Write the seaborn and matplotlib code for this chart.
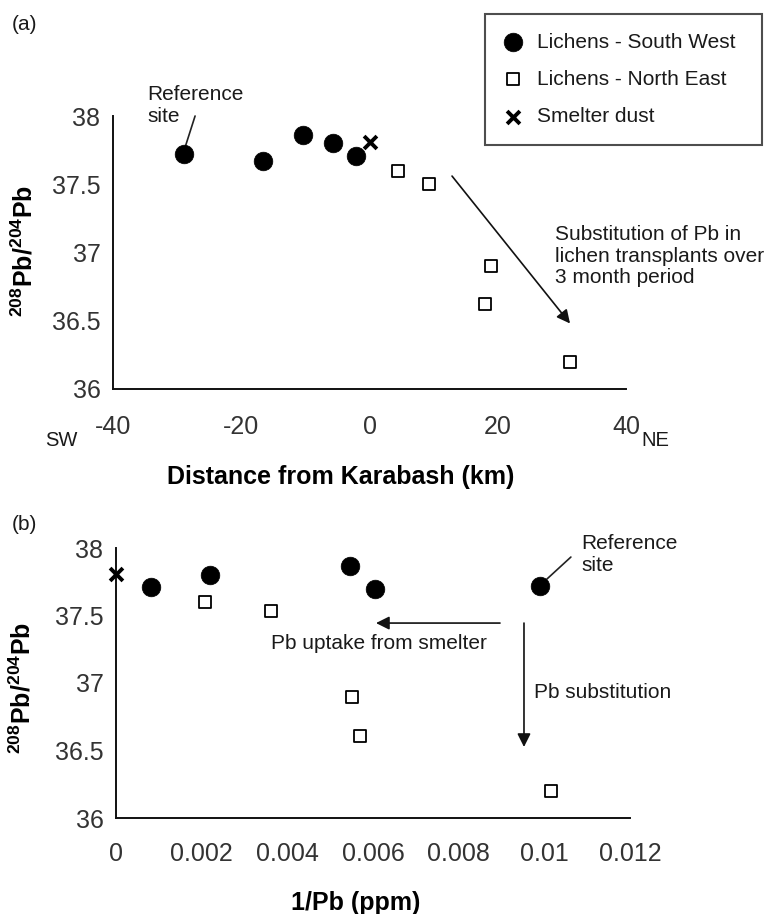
import numpy as np
import pandas as pd
import matplotlib
matplotlib.use("Agg")
import matplotlib.pyplot as plt
import seaborn as sns

# ---------------- data ----------------
# Panel (a): distance from Karabash (km) vs 208Pb/204Pb
sw_dist = [-28.9, -16.6, -10.3, -5.7, -2.1]
sw_ratio_a = [37.72, 37.67, 37.86, 37.80, 37.71]
ne_dist = [4.5, 9.3, 19.0, 18.0, 31.3]
ne_ratio_a = [37.60, 37.50, 36.90, 36.62, 36.20]
smelter_dist = [0.0]
smelter_ratio = [37.81]

# Panel (b): 1/Pb (ppm) vs 208Pb/204Pb
sw_invpb = [0.00081, 0.00219, 0.00546, 0.00605, 0.0099]
sw_ratio_b = [37.71, 37.80, 37.87, 37.70, 37.72]
ne_invpb = [0.00208, 0.00361, 0.0055, 0.0057, 0.01016]
ne_ratio_b = [37.60, 37.53, 36.90, 36.61, 36.20]
smelter_invpb = [0.0]

labels = ["Lichens - South West", "Lichens - North East", "Smelter dust"]
yticks = [36, 36.5, 37, 37.5, 38]
yticklabels = ["36", "36.5", "37", "37.5", "38"]
xticks_a = [-40, -20, 0, 20, 40]
xticklabels_a = ["-40", "-20", "0", "20", "40"]
xticks_b = [0, 0.002, 0.004, 0.006, 0.008, 0.01, 0.012]
xticklabels_b = ["0", "0.002", "0.004", "0.006", "0.008", "0.01", "0.012"]

# ---------------- style ----------------
sns.set_style("white")
plt.rcParams["font.family"] = ["Liberation Sans", "DejaVu Sans"]
plt.rcParams["axes.unicode_minus"] = False
plt.rcParams["mathtext.fontset"] = "custom"
plt.rcParams["mathtext.rm"] = "Liberation Sans"
plt.rcParams["mathtext.bf"] = "Liberation Sans:bold"

W, H = 766, 914
fig = plt.figure(figsize=(W / 100, H / 100), dpi=100)

def fx(px):
    return px / W

def fy(py):
    return 1 - py / H

ax1 = fig.add_axes([fx(113), fy(389), 513 / W, 273 / H])
ax2 = fig.add_axes([fx(116), fy(818), 514 / W, 270 / H])

TXT = "#1a1a1a"
circ_s, sq_s, x_s = 180, 75, 85

def draw(ax, sx, sy, nx, ny, mx, my, with_label):
    sns.scatterplot(x=sx, y=sy, ax=ax, marker="o", s=circ_s, color="black",
                    edgecolor="black", linewidth=0.5,
                    label=labels[0] if with_label else None, zorder=3, clip_on=False)
    sns.scatterplot(x=nx, y=ny, ax=ax, marker="s", s=sq_s, color="white",
                    edgecolor="black", linewidth=1.3,
                    label=labels[1] if with_label else None, zorder=3, clip_on=False)
    sns.scatterplot(x=mx, y=my, ax=ax, marker="x", s=x_s, color="black",
                    edgecolor="black", linewidth=2.8,
                    label=labels[2] if with_label else None, zorder=4, clip_on=False)

draw(ax1, sw_dist, sw_ratio_a, ne_dist, ne_ratio_a, smelter_dist, smelter_ratio, True)
draw(ax2, sw_invpb, sw_ratio_b, ne_invpb, ne_ratio_b, smelter_invpb, smelter_ratio, False)

for ax in (ax1, ax2):
    ax.set_ylim(36, 38)
    ax.set_yticks(yticks)
    ax.set_yticklabels(yticklabels)
    for sp in ("top", "right"):
        ax.spines[sp].set_visible(False)
    for sp in ("left", "bottom"):
        ax.spines[sp].set_linewidth(1.4)
        ax.spines[sp].set_color("#111111")
    ax.tick_params(axis="both", direction="out", length=5, width=1.4,
                   color="#111111", labelsize=18, labelcolor="#333333")
    ax.tick_params(axis="y", pad=4)
    ax.set_xlabel("")
    ax.set_ylabel("")
    ax.set_facecolor("white")

ax1.set_xlim(-40, 40)
ax1.set_xticks(xticks_a)
ax1.set_xticklabels(xticklabels_a)
ax1.tick_params(axis="x", pad=14)
ax2.set_xlim(0, 0.012)
ax2.set_xticks(xticks_b)
ax2.set_xticklabels(xticklabels_b)
ax2.tick_params(axis="x", pad=12)

# legend
leg = ax1.legend(loc="upper left",
                 bbox_to_anchor=(fx(485), fy(142), 277 / W, 128 / H),
                 bbox_transform=fig.transFigure, borderaxespad=0, mode="expand",
                 fontsize=15, frameon=True, fancybox=False, shadow=False,
                 labelspacing=0.87, borderpad=0.9, handlelength=0.9,
                 handletextpad=0.7)
leg.get_frame().set_edgecolor("#222222")
leg.get_frame().set_linewidth(1.5)
for t in leg.get_texts():
    t.set_color(TXT)

# axis labels and panel letters
ylab = r"$\mathbf{^{208}Pb/^{204}Pb}$"
fig.text(fx(24), fy(251), ylab, rotation=90, ha="center", va="center",
         fontsize=18, color="black")
fig.text(fx(22), fy(688), ylab, rotation=90, ha="center", va="center",
         fontsize=18, color="black")
fig.text(fx(341), fy(477), "Distance from Karabash (km)", ha="center", va="center",
         fontsize=18, fontweight="bold", color="black")
fig.text(fx(356), fy(903), "1/Pb (ppm)", ha="center", va="center",
         fontsize=18, fontweight="bold", color="black")
fig.text(fx(12), fy(25), "(a)", ha="left", va="center", fontsize=15, color=TXT)
fig.text(fx(12), fy(525), "(b)", ha="left", va="center", fontsize=15, color=TXT)
fig.text(fx(61), fy(440), "SW", ha="center", va="center", fontsize=14.5, color=TXT)
fig.text(fx(655), fy(440), "NE", ha="center", va="center", fontsize=14.5, color=TXT)

# panel (a) annotations
ax1.text(-34.7, 38.077, "Reference\nsite", ha="left", va="center", fontsize=15,
         color=TXT, linespacing=1.15)
ax1.plot([-27.2, -28.9], [38.0, 37.75], color="#222222", lw=1.2, clip_on=False)
ax1.text(28.9, 36.974, "Substitution of Pb in\nlichen transplants over\n3 month period",
         ha="left", va="center", fontsize=15, color=TXT, linespacing=1.15)
ax1.annotate("", xy=(31.27, 36.48), xytext=(12.87, 37.56),
             arrowprops=dict(arrowstyle="-|>", lw=1.2, color="#111111",
                             mutation_scale=20, shrinkA=0, shrinkB=0))

# panel (b) annotations
ax2.text(0.010856, 37.952, "Reference\nsite", ha="left", va="center", fontsize=15,
         color=TXT, linespacing=1.15)
ax2.plot([0.01062, 0.01006], [37.933, 37.77], color="#222222", lw=1.2, clip_on=False)
ax2.annotate("", xy=(0.00607, 37.444), xytext=(0.008965, 37.444),
             arrowprops=dict(arrowstyle="-|>", lw=1.2, color="#111111",
                             mutation_scale=20, shrinkA=0, shrinkB=0))
ax2.text(0.00614, 37.296, "Pb uptake from smelter", ha="center", va="center",
         fontsize=15, color=TXT)
ax2.annotate("", xy=(0.009525, 36.526), xytext=(0.009525, 37.444),
             arrowprops=dict(arrowstyle="-|>", lw=1.2, color="#111111",
                             mutation_scale=20, shrinkA=0, shrinkB=0))
ax2.text(0.00976, 36.933, "Pb substitution", ha="left", va="center",
         fontsize=15, color=TXT)

fig.savefig("out.png", dpi=100, facecolor="white")
